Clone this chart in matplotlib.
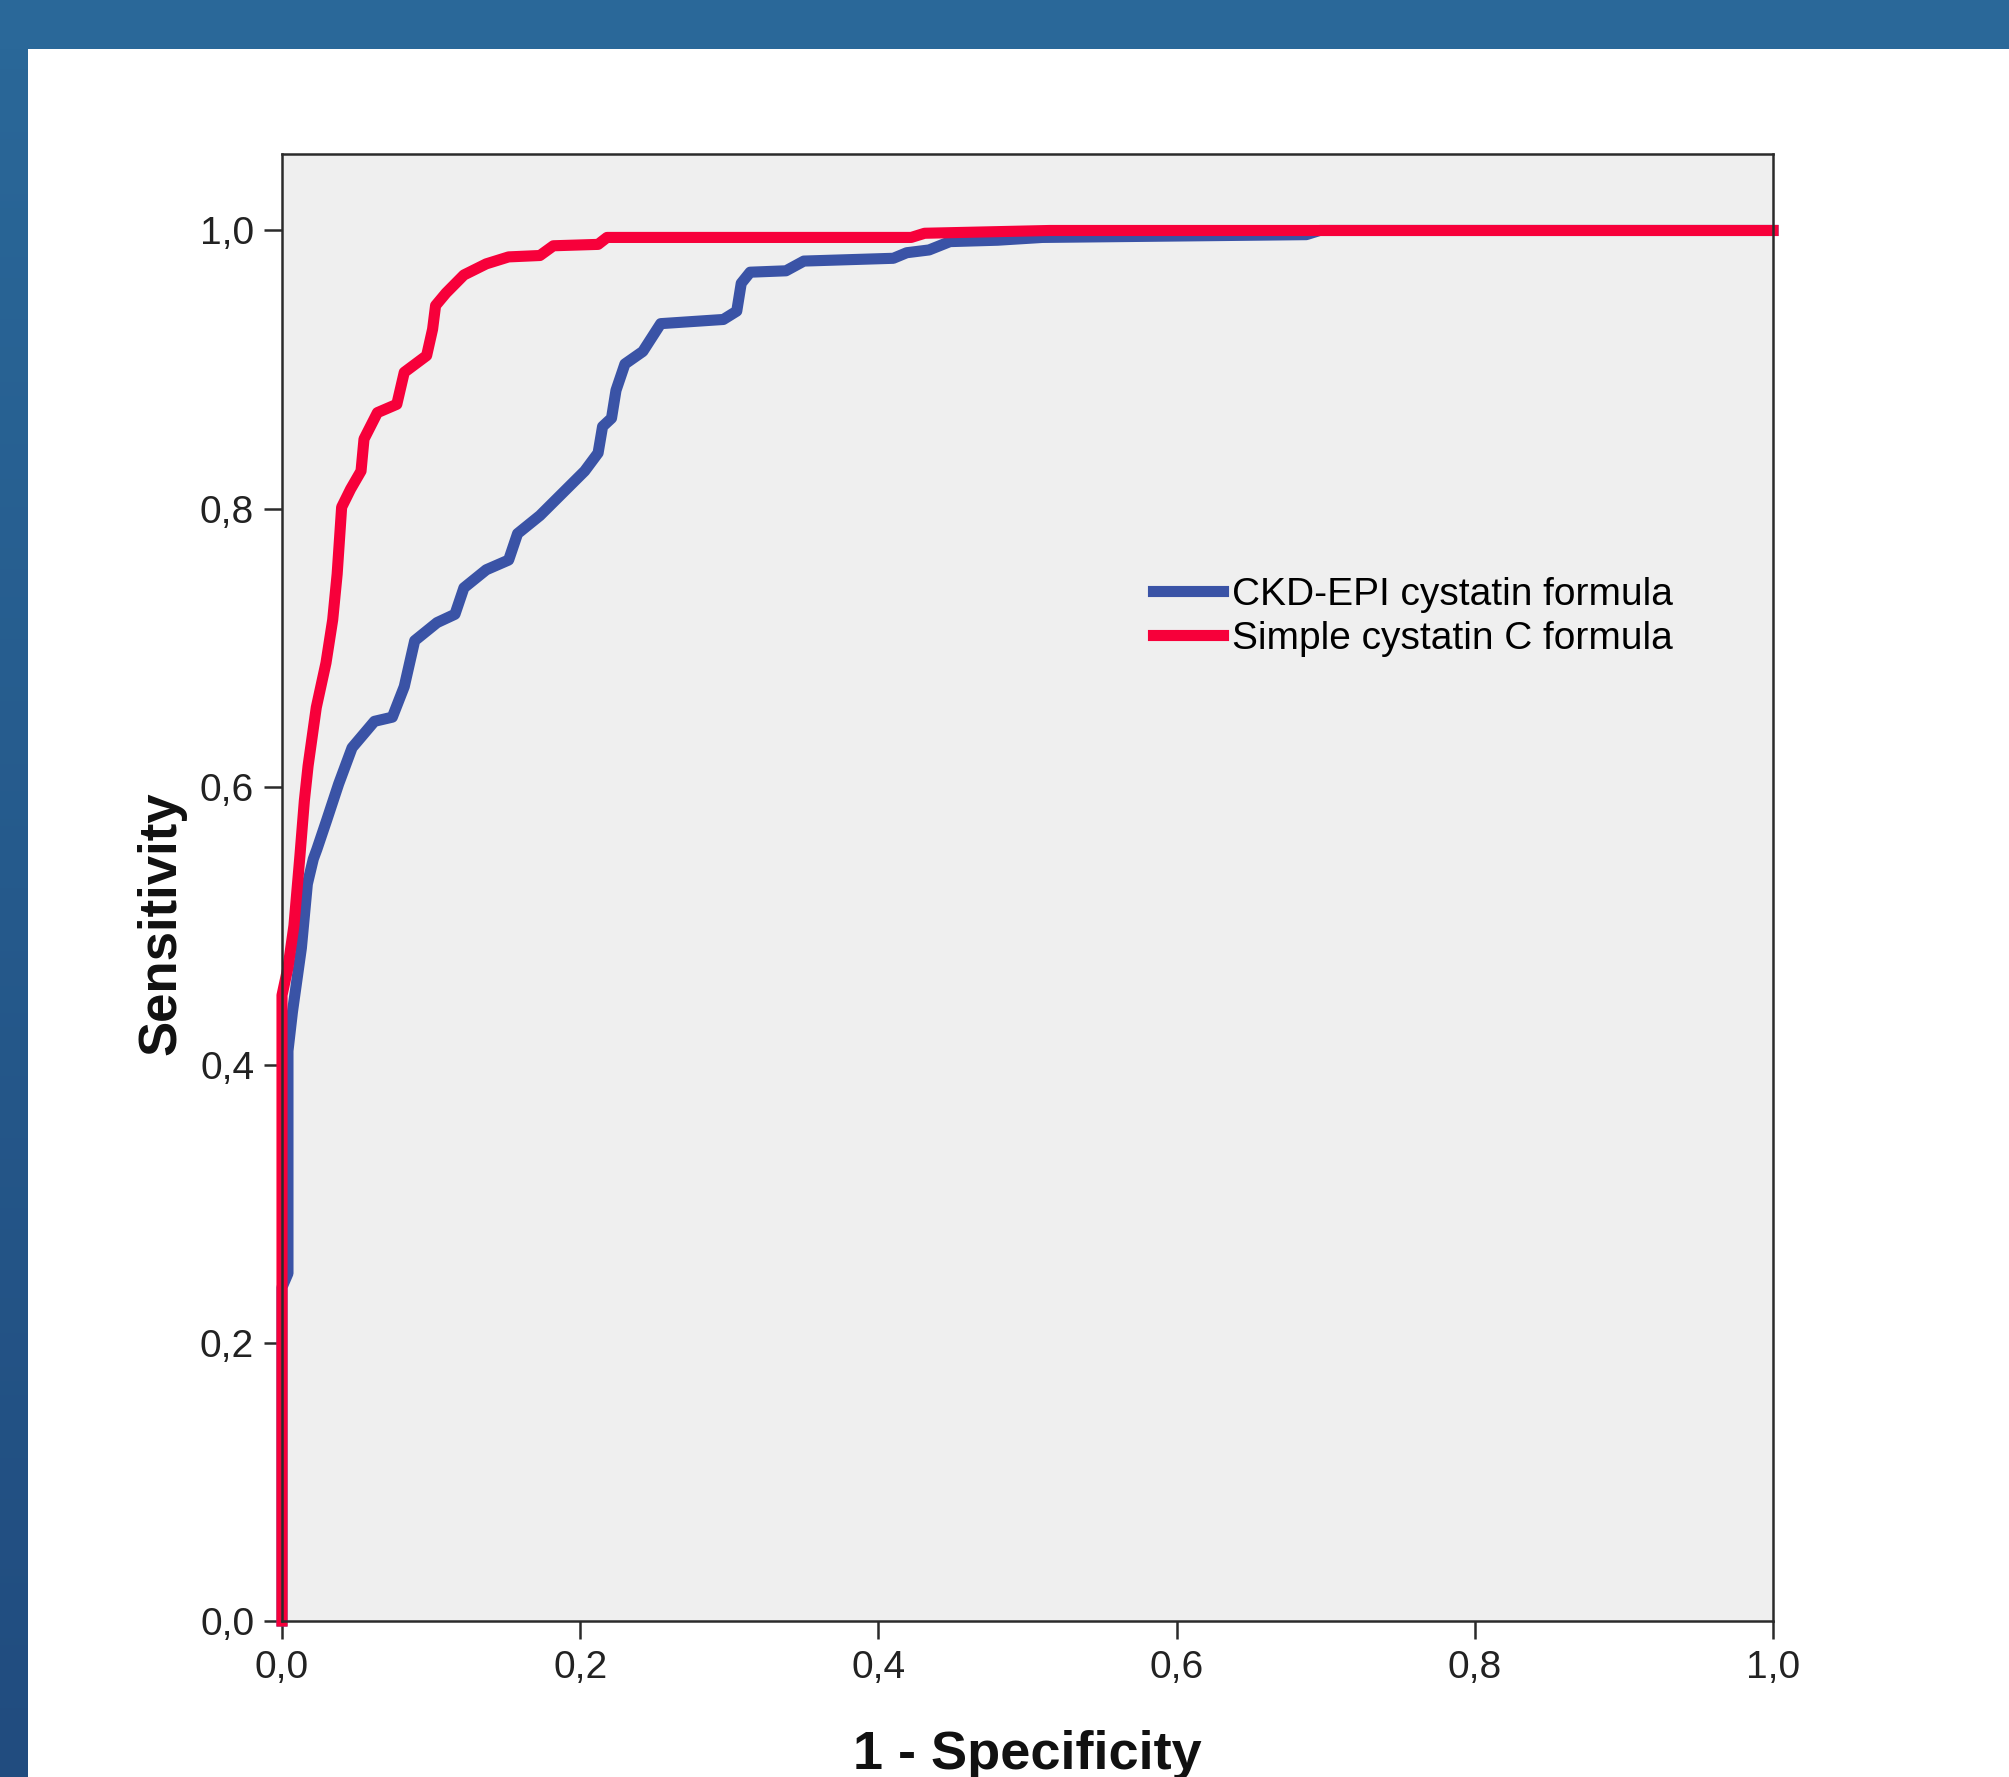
import numpy as np
import matplotlib
matplotlib.use("Agg")
import matplotlib.pyplot as plt
from matplotlib.patches import Rectangle

# ROC points (1 - specificity, sensitivity)
ckd_fpr = [0, 0, 0.004, 0.004, 0.007, 0.013, 0.017, 0.021, 0.0234, 0.030,
           0.038, 0.047, 0.062, 0.074, 0.082, 0.089, 0.104, 0.116, 0.122, 0.137,
           0.152, 0.158, 0.173, 0.188, 0.203, 0.212, 0.215, 0.221, 0.224, 0.230,
           0.242, 0.254, 0.296, 0.305, 0.308, 0.314, 0.338, 0.350, 0.410, 0.419,
           0.434, 0.448, 0.48, 0.51, 0.687, 0.696, 1.0]
ckd_tpr = [0, 0.24, 0.25, 0.41, 0.438, 0.484, 0.53, 0.548, 0.555, 0.576,
           0.602, 0.628, 0.647, 0.65, 0.672, 0.705, 0.718, 0.724, 0.743, 0.756,
           0.763, 0.782, 0.795, 0.811, 0.827, 0.840, 0.859, 0.865, 0.885, 0.904,
           0.913, 0.933, 0.936, 0.942, 0.962, 0.970, 0.971, 0.978, 0.980, 0.984,
           0.986, 0.992, 0.993, 0.995, 0.997, 1.0, 1.0]

simple_fpr = [0, 0, 0.004, 0.008, 0.012, 0.015, 0.0175, 0.023, 0.0295, 0.034,
              0.037, 0.040, 0.046, 0.053, 0.055, 0.064, 0.077, 0.082, 0.097, 0.101,
              0.103, 0.110, 0.122, 0.137, 0.152, 0.173, 0.182, 0.212, 0.218, 0.422,
              0.431, 0.515, 1.0]
simple_tpr = [0, 0.45, 0.47, 0.50, 0.55, 0.59, 0.615, 0.657, 0.689, 0.72,
              0.753, 0.801, 0.814, 0.827, 0.85, 0.869, 0.875, 0.898, 0.91, 0.929,
              0.946, 0.955, 0.968, 0.976, 0.981, 0.982, 0.989, 0.990, 0.995, 0.995,
              0.998, 1.0, 1.0]

series_labels = ['CKD-EPI cystatin formula', 'Simple cystatin C formula']
tick_vals = [0.0, 0.2, 0.4, 0.6, 0.8, 1.0]
tick_labels = ['0,0', '0,2', '0,4', '0,6', '0,8', '1,0']

W, H = 2009, 1777
plt.rcParams['font.family'] = ['Liberation Sans', 'DejaVu Sans']

fig = plt.figure(figsize=(W / 100, H / 100), dpi=100, facecolor='white')

# slide frame: blue band on top, gradient band on the left
left_ax = fig.add_axes([0, 0, 28 / W, 1])
grad = np.linspace(0, 1, 256).reshape(-1, 1)
cmap = matplotlib.colors.LinearSegmentedColormap.from_list('frame', ['#2a6899', '#214c7f'])
left_ax.imshow(grad, aspect='auto', cmap=cmap, extent=[0, 1, 0, 1], origin='upper')
left_ax.axis('off')
fig.add_artist(Rectangle((0, 1 - 49 / H), 1, 49 / H, transform=fig.transFigure,
                         facecolor='#2a6899', edgecolor='none'))

ax = fig.add_axes([282 / W, 156 / H, 1491 / W, 1467 / H])
ax.set_facecolor('#efefef')

ax.plot(ckd_fpr, ckd_tpr, color='#3a53a6', lw=8, label=series_labels[0], clip_on=False)
ax.plot(simple_fpr, simple_tpr, color='#f7003a', lw=8, label=series_labels[1], clip_on=False)

ax.set_xlim(0, 1)
ax.set_ylim(0, 1.055)
ax.set_xticks(tick_vals)
ax.set_xticklabels(tick_labels)
ax.set_yticks(tick_vals)
ax.set_yticklabels(tick_labels)
ax.tick_params(axis='both', length=13, width=1.8, color='#2b2b2b',
               labelsize=28, labelcolor='#222222')
ax.tick_params(axis='x', pad=8)
ax.tick_params(axis='y', pad=7)
for sp in ax.spines.values():
    sp.set_color('#2b2b2b')
    sp.set_linewidth(1.8)

ax.set_xlabel('1 - Specificity', fontsize=39, fontweight='bold', color='#111111')
ax.xaxis.set_label_coords(0.5, -0.074)
ax.set_ylabel('Sensitivity', fontsize=38, fontweight='bold', color='#111111')
ax.yaxis.set_label_coords(-0.064, 0.476)

ax.legend(loc='center left', bbox_to_anchor=(0.584, 0.6845), frameon=False,
          fontsize=28, handlelength=1.8, handletextpad=0.25, labelspacing=0.2,
          borderpad=0, borderaxespad=0)

fig.savefig('out.png', dpi=100, facecolor='white')
